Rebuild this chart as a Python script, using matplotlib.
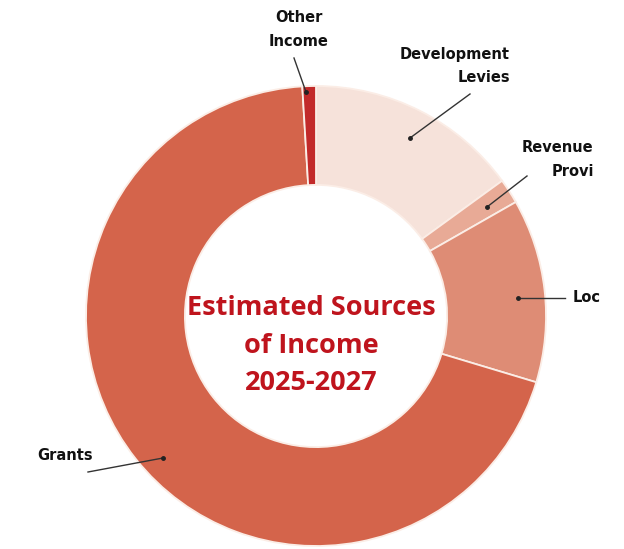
import matplotlib.pyplot as plt

# Sources of income (share of total, %) - clockwise from the top
sources = ["Development Levies", "Revenue Provi", "Loc", "Grants", "Other Income"]
shares = [15.0, 1.75, 12.9, 69.4, 0.95]
colours = ["#F6E2DA", "#E8AA96", "#DE8C75", "#D4644B", "#C22A2A"]

W, H = 624, 549

fig = plt.figure(figsize=(6.24, 5.49), dpi=100)
ax = fig.add_axes([0, 0, 1, 1])

cx, cy, R = 316, H - 316, 230
ax.pie(shares, colors=colours, startangle=90, counterclock=False,
       center=(cx, cy), radius=R, frame=True,
       wedgeprops=dict(width=R * 0.43, edgecolor="#FBEDE6", linewidth=1.3))
ax.set_xlim(0, W)
ax.set_ylim(0, H)
ax.set_aspect("equal")
ax.axis("off")

lab = dict(fontsize=10.5, fontweight="bold", color="#111111", family="DejaVu Sans")

def leader(x0, y0, x1, y1):
    # line from label to a dot inside the slice (pixel coords from the top)
    ax.plot([x0, x1], [H - y0, H - y1], color="#333333", lw=1.0)
    ax.plot(x1, H - y1, "o", color="#222222", ms=2.5)

ax.text(299, H - 18, "Other", ha="center", va="center", **lab)
ax.text(299, H - 42, "Income", ha="center", va="center", **lab)
leader(294, 58, 306, 92)

ax.text(510, H - 55, "Development", ha="right", va="center", **lab)
ax.text(510, H - 77, "Levies", ha="right", va="center", **lab)
leader(470, 94, 410, 138)

# these two labels are cut at the right edge in the original
ax.text(522, H - 148, "Revenue", ha="left", va="center", **lab)
ax.text(552, H - 172, "Provi", ha="left", va="center", **lab)
leader(527, 176, 487, 207)

ax.text(573, H - 298, "Loc", ha="left", va="center", **lab)
leader(565, 298, 518, 298)

ax.text(37, H - 455, "Grants", ha="left", va="center", **lab)
leader(88, 472, 163, 458)

centre = dict(fontsize=19.5, fontweight="bold", color="#BF141D", family="Open Sans",
              ha="center", va="center")
ax.text(311, H - 308, "Estimated Sources", **centre)
ax.text(311, H - 346, "of Income", **centre)
ax.text(311, H - 383, "2025-2027", **centre)

fig.savefig("out.png", dpi=100, facecolor="white")
